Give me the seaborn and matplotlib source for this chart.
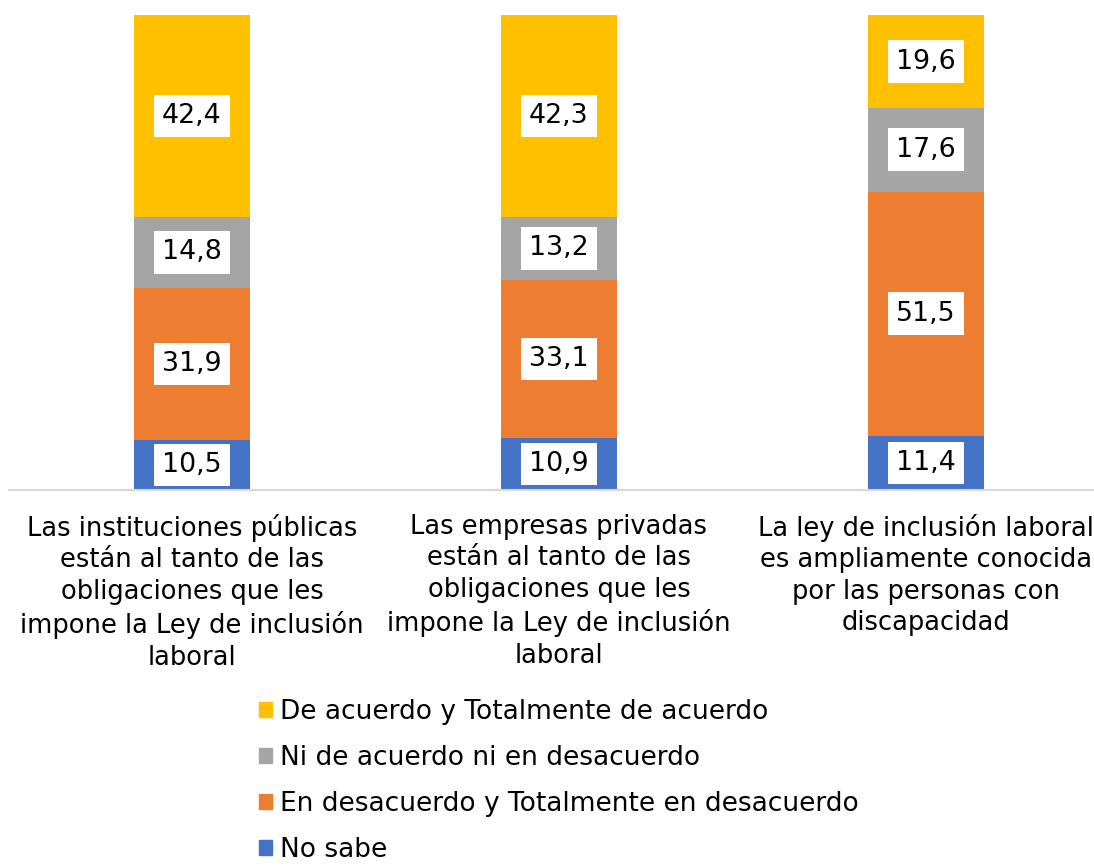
"""
plot.py - Barras apiladas 100% : percepcion sobre la Ley de inclusion laboral
"""

import pandas as pd
import matplotlib.pyplot as plt
import matplotlib.patches as mpatches
import seaborn as sns
import numpy as np

sns.set_theme(style="white")
plt.rcParams["font.family"] = "sans-serif"
plt.rcParams["font.sans-serif"] = ["DejaVu Sans"]

CATEGORIAS = [
    "Las instituciones públicas\nestán al tanto de las\nobligaciones que les\nimpone la Ley de inclusión\nlaboral",
    "Las empresas privadas\nestán al tanto de las\nobligaciones que les\nimpone la Ley de inclusión\nlaboral",
    "La ley de inclusión laboral\nes ampliamente conocida\npor las personas con\ndiscapacidad",
]
SERIES = [
    "No sabe",
    "En desacuerdo y Totalmente en desacuerdo",
    "Ni de acuerdo ni en desacuerdo",
    "De acuerdo y Totalmente de acuerdo",
]
NO_SABE     = [10.5, 10.9, 11.4]
DESACUERDO  = [31.9, 33.1, 51.5]
NEUTRAL     = [14.8, 13.2, 17.6]
ACUERDO     = [42.4, 42.3, 19.6]
COLORES     = ["#4472C4", "#ED7D31", "#A5A5A5", "#FFC000"]

W, H = 1094, 867
fig = plt.figure(figsize=(W / 100, H / 100), dpi=100)
ax = fig.add_axes([8.5 / W, 1 - 490 / H, 1101 / W, 475 / H])

valores = [NO_SABE, DESACUERDO, NEUTRAL, ACUERDO]
total = np.sum(np.array(valores), axis=0)  # apilado al 100%
base = np.zeros(len(CATEGORIAS))
for serie, vals, color in zip(SERIES, valores, COLORES):
    pct = np.array(vals) / total * 100
    df = pd.DataFrame({"cat": CATEGORIAS, "pct": pct})
    sns.barplot(data=df, x="cat", y="pct", bottom=base, color=color,
                width=0.315, errorbar=None, saturation=1, linewidth=0, ax=ax)
    for i, v in enumerate(vals):
        ax.text(i, base[i] + pct[i] / 2, f"{v:.1f}".replace(".", ","),
                ha="center", va="center", fontsize=19.3, color="black",
                bbox=dict(facecolor="white", edgecolor="none", pad=6))
    base = base + pct

ax.set_ylim(0, 100)
ax.set_xlim(-0.5, 2.5)
ax.set_xlabel("")
ax.set_ylabel("")
ax.set_yticks([])
for s in ["top", "right", "left"]:
    ax.spines[s].set_visible(False)
ax.spines["bottom"].set_color("#D9D9D9")
ax.spines["bottom"].set_linewidth(1.5)
ax.tick_params(axis="x", length=0, pad=17, labelsize=18.5, labelcolor="black")
for lbl in ax.get_xticklabels():
    lbl.set_linespacing(1.28)
    lbl.set_ha("center")

handles = [mpatches.Patch(color=c, label=s) for s, c in zip(SERIES, COLORES)][::-1]
fig.legend(handles=handles, loc="upper left", bbox_to_anchor=(259 / W, 1 - 699 / H),
           frameon=False, fontsize=19, labelcolor="black", handlelength=0.5,
           handleheight=0.5, handletextpad=0.3, labelspacing=0.76,
           borderaxespad=0, borderpad=0)

fig.savefig("out.png", dpi=100)
